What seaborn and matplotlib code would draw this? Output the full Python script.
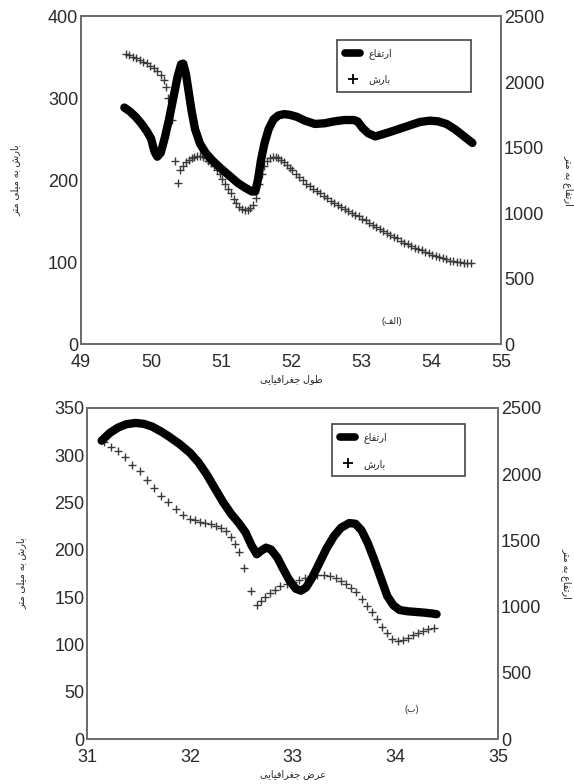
import matplotlib
matplotlib.use("Agg")
import matplotlib.pyplot as plt
from matplotlib.lines import Line2D
import seaborn as sns
import pandas as pd

# Panel (الف): precipitation (mm) and elevation (m) along longitude
lon_precip = [49.64, 49.69, 49.74, 49.79, 49.84, 49.89, 49.94, 49.99, 50.04, 50.09,
              50.14, 50.18, 50.22, 50.25, 50.30, 50.35, 50.38, 50.42, 50.46, 50.50,
              50.54, 50.58, 50.62, 50.66, 50.70, 50.74, 50.78, 50.82, 50.86, 50.90,
              50.94, 50.98, 51.02, 51.06, 51.10, 51.14, 51.18, 51.22, 51.26, 51.30,
              51.34, 51.38, 51.42, 51.46, 51.50, 51.54, 51.58, 51.62, 51.66, 51.70,
              51.74, 51.78, 51.82, 51.86, 51.90, 51.94, 51.98, 52.02, 52.07, 52.12,
              52.17, 52.22, 52.27, 52.32, 52.37, 52.42, 52.47, 52.52, 52.57, 52.62,
              52.67, 52.72, 52.77, 52.82, 52.87, 52.92, 52.97, 53.02, 53.07, 53.12,
              53.17, 53.22, 53.27, 53.32, 53.37, 53.42, 53.47, 53.52, 53.57, 53.62,
              53.67, 53.72, 53.77, 53.82, 53.87, 53.92, 53.97, 54.02, 54.07, 54.12,
              54.17, 54.22, 54.27, 54.32, 54.37, 54.42, 54.47, 54.52, 54.57]
precip_a = [354, 353, 351, 349, 347, 345, 343, 340, 337, 333,
            328, 322, 314, 300, 274, 224, 197, 212, 218, 222,
            225, 227, 229, 230, 230, 229, 227, 224, 221, 217,
            213, 208, 202, 196, 190, 184, 177, 172, 168, 165,
            164, 164, 166, 170, 178, 195, 208, 218, 224, 227,
            229, 229, 227, 225, 222, 219, 215, 212, 208, 204,
            200, 196, 193, 190, 187, 184, 181, 178, 175, 172,
            170, 167, 165, 163, 160, 158, 156, 153, 151, 148,
            146, 143, 140, 138, 136, 133, 131, 129, 126, 124,
            122, 120, 118, 116, 115, 113, 111, 109, 108, 106,
            105, 104, 102, 101, 100, 100, 99, 99, 99]

lon_elev = [49.62, 49.70, 49.78, 49.86, 49.94, 50.00, 50.05, 50.09, 50.14, 50.20,
            50.26, 50.32, 50.38, 50.43, 50.46, 50.50, 50.54, 50.58, 50.63, 50.70,
            50.78, 50.88, 51.00, 51.12, 51.24, 51.34, 51.44, 51.49, 51.53, 51.57,
            51.62, 51.68, 51.75, 51.82, 51.90, 51.98, 52.08, 52.20, 52.34, 52.48,
            52.62, 52.76, 52.90, 52.95, 53.02, 53.10, 53.20, 53.30, 53.42, 53.56,
            53.70, 53.84, 53.98, 54.10, 54.22, 54.34, 54.46, 54.59]
elev_a = [1805, 1775, 1735, 1685, 1625, 1570, 1470, 1430, 1460, 1580,
          1720, 1880, 2040, 2135, 2140, 2060, 1920, 1780, 1640, 1530,
          1460, 1400, 1340, 1285, 1230, 1195, 1165, 1165, 1260, 1400,
          1530, 1640, 1715, 1745, 1755, 1750, 1735, 1705, 1680, 1685,
          1700, 1710, 1710, 1700, 1650, 1610, 1585, 1600, 1620, 1645,
          1670, 1695, 1705, 1700, 1680, 1640, 1590, 1535]

# Panel (ب): precipitation (mm) and elevation (m) along latitude
lat_precip = [31.16, 31.23, 31.30, 31.37, 31.44, 31.51, 31.58, 31.65, 31.72, 31.79,
              31.86, 31.93, 32.00, 32.05, 32.10, 32.15, 32.20, 32.25, 32.30, 32.35,
              32.40, 32.44, 32.48, 32.53, 32.59, 32.65, 32.69, 32.73, 32.78, 32.83,
              32.88, 32.94, 33.00, 33.06, 33.12, 33.18, 33.24, 33.30, 33.36, 33.42,
              33.47, 33.52, 33.57, 33.62, 33.67, 33.72, 33.77, 33.82, 33.87, 33.92,
              33.97, 34.02, 34.07, 34.12, 34.17, 34.22, 34.27, 34.32, 34.37]
precip_b = [314, 309, 304, 298, 290, 283, 274, 265, 257, 250,
            243, 237, 233, 231, 229, 228, 227, 225, 223, 220,
            214, 206, 198, 181, 156, 142, 146, 150, 154, 158,
            162, 164, 166, 168, 170, 172, 173, 173, 172, 170,
            167, 164, 160, 155, 148, 141, 134, 127, 119, 112,
            106, 104, 105, 107, 110, 112, 114, 116, 118]

lat_elev = [31.14, 31.22, 31.30, 31.38, 31.47, 31.55, 31.63, 31.72, 31.80, 31.90,
            32.00, 32.08, 32.16, 32.24, 32.32, 32.40, 32.48, 32.54, 32.60, 32.65,
            32.69, 32.74, 32.79, 32.85, 32.91, 32.97, 33.03, 33.08, 33.13, 33.19,
            33.26, 33.33, 33.40, 33.47, 33.55, 33.61, 33.67, 33.73, 33.79, 33.86,
            33.92, 33.98, 34.04, 34.12, 34.20, 34.28, 34.36, 34.40]
elev_b = [2251, 2310, 2350, 2375, 2385, 2378, 2358, 2320, 2280, 2225,
          2160, 2090, 2000, 1895, 1790, 1700, 1625, 1560, 1460, 1395,
          1420, 1445, 1430, 1370, 1280, 1195, 1135, 1120, 1145, 1220,
          1330, 1440, 1530, 1595, 1630, 1625, 1575, 1480, 1360, 1210,
          1080, 1010, 975, 965, 960, 955, 948, 943]

# Persian text written in visual order with Arabic presentation forms
# (matplotlib does no shaping / right-to-left reordering itself)
lbl_elev = '\ufec9\ufe8e\ufed4\ufe97\ufead\ufe8d'                      # ارتفاع
lbl_precip = '\ufeb5\ufead\ufe8e\ufe91'                                # بارش
ylab_left = '\ufeae\ufe98\ufee3 \ufef0\ufee0\ufef4\ufee3 \ufeea\ufe91 \ufeb5\ufead\ufe8e\ufe91'  # بارش به میلی متر
ylab_right = '\ufeae\ufe98\ufee3 \ufeea\ufe91 \ufec9\ufe8e\ufed4\ufe97\ufead\ufe8d'            # ارتفاع به متر
xlab_top = '\ufef0\ufef3\ufe8e\ufef4\ufed3\ufe8d\ufeae\ufed0\ufe9f \ufedd\ufeee\ufec3'        # طول جغرافیایی
xlab_bottom = '\ufef0\ufef3\ufe8e\ufef4\ufed3\ufe8d\ufeae\ufed0\ufe9f \ufebd\ufeae\ufecb'     # عرض جغرافیایی
tag_top = '(\ufed2\ufedf\ufe8d)'                                       # (الف)
tag_bottom = '(\ufe8f)'                                                # (ب)

sns.set_style("white")
plt.rcParams['font.family'] = ['Liberation Sans', 'DejaVu Sans']

fig = plt.figure(figsize=(5.74, 7.84), dpi=100)


def draw_panel(rect, xp, yp, xe, ye, xlim, xticks, ylim_left, yticks_left,
               xlabel, tag, tag_pos, leg_box):
    ax1 = fig.add_axes(rect)
    ax2 = ax1.twinx()

    df_p = pd.DataFrame({'x': xp, 'y': yp})
    df_e = pd.DataFrame({'x': xe, 'y': ye})

    sns.scatterplot(data=df_p, x='x', y='y', ax=ax1, marker='+', color='#3a3a3a',
                    s=38, linewidth=1.0, legend=False)
    sns.lineplot(data=df_e, x='x', y='y', ax=ax2, color='black', linewidth=6,
                 sort=False, legend=False)

    ax1.set_xlim(*xlim)
    ax1.set_xticks(xticks)
    ax1.set_ylim(*ylim_left)
    ax1.set_yticks(yticks_left)
    ax2.set_ylim(0, 2500)
    ax2.set_yticks([0, 500, 1000, 1500, 2000, 2500])

    for ax in (ax1, ax2):
        ax.tick_params(labelsize=13, length=0, pad=2, colors='#2a2a2a')
        for sp in ax.spines.values():
            sp.set_color('#6e6e6e')
            sp.set_linewidth(1.4)
    ax1.tick_params(axis='x', pad=7)

    ax1.set_xlabel(xlabel, fontsize=7, labelpad=2)
    ax1.set_ylabel(ylab_left, fontsize=7, labelpad=20)
    ax2.set_ylabel(ylab_right, fontsize=7, rotation=270, labelpad=22)

    ax1.text(tag_pos[0], tag_pos[1], tag, transform=ax1.transAxes, fontsize=6.5,
             ha='center', va='center')

    handles = [Line2D([], [], color='black', linewidth=5.5),
               Line2D([], [], color='black', marker='+', linestyle='none',
                      markersize=7, markeredgewidth=1.3)]
    leg = ax2.legend(handles, [lbl_elev, lbl_precip], loc='upper left',
                     bbox_to_anchor=leg_box, mode='expand', fontsize=7,
                     handlelength=1.6, labelspacing=1.6, borderpad=0.8,
                     frameon=True, fancybox=False, framealpha=1)
    leg.get_frame().set_edgecolor('#444444')
    leg.get_frame().set_linewidth(1.2)
    return ax1, ax2


draw_panel([0.141, 0.561, 0.732, 0.418], lon_precip, precip_a, lon_elev, elev_a,
           (49, 55), [49, 50, 51, 52, 53, 54, 55], (0, 400), [0, 100, 200, 300, 400],
           xlab_top, tag_top, (0.74, 0.068), (0.598, 0.780, 0.342, 0.162))

draw_panel([0.152, 0.057, 0.716, 0.423], lat_precip, precip_b, lat_elev, elev_b,
           (31, 35), [31, 32, 33, 34, 35], (0, 350), [0, 50, 100, 150, 200, 250, 300, 350],
           xlab_bottom, tag_bottom, (0.79, 0.09), (0.584, 0.795, 0.348, 0.169))

fig.savefig("out.png", dpi=100)
